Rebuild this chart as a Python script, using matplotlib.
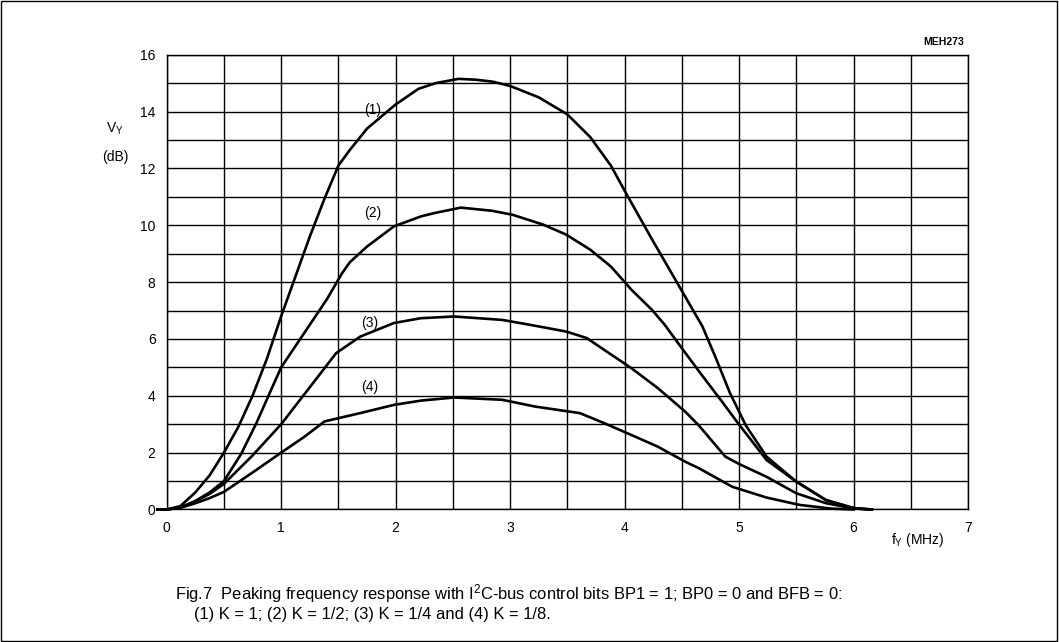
import matplotlib
matplotlib.use("Agg")
import matplotlib.pyplot as plt
from matplotlib.patches import Rectangle

plt.rcParams['font.family'] = ['Liberation Sans', 'DejaVu Sans']
plt.rcParams['mathtext.default'] = 'regular'

# curve (1) K = 1
f1 = [-0.08, 0.0, 0.12, 0.25, 0.375, 0.5, 0.625, 0.75, 0.875, 1.0, 1.125, 1.25, 1.375, 1.5,
      1.6, 1.75, 2.0, 2.2, 2.35, 2.55, 2.7, 2.85, 3.0, 3.25, 3.5, 3.7, 3.88, 4.03, 4.24,
      4.47, 4.68, 4.8, 4.92, 5.06, 5.24, 5.5, 5.76, 6.0, 6.16]
v1 = [0, 0, 0.12, 0.6, 1.2, 2.0, 2.9, 4.0, 5.3, 6.8, 8.2, 9.6, 10.9, 12.1,
      12.65, 13.4, 14.25, 14.8, 15.0, 15.15, 15.12, 15.05, 14.9, 14.5, 13.9, 13.1, 12.1, 11.0, 9.5,
      7.9, 6.44, 5.3, 4.1, 2.95, 1.86, 0.98, 0.33, 0.05, 0]
# curve (2) K = 1/2
f2 = [-0.08, 0.0, 0.12, 0.25, 0.375, 0.5, 0.65, 0.785, 0.9, 1.0, 1.2, 1.4, 1.53, 1.6, 1.75,
      1.985, 2.22, 2.34, 2.57, 2.84, 3.02, 3.29, 3.49, 3.7, 3.88, 4.06, 4.24, 4.35, 4.51,
      4.68, 4.85, 4.99, 5.24, 5.5, 5.76, 6.0, 6.16]
v2 = [0, 0, 0.07, 0.3, 0.6, 1.0, 1.95, 3.05, 4.1, 5.0, 6.2, 7.4, 8.3, 8.7, 9.25,
      9.96, 10.31, 10.43, 10.62, 10.51, 10.37, 10.02, 9.67, 9.14, 8.55, 7.73, 7.02, 6.5, 5.62,
      4.7, 3.8, 3.04, 1.74, 0.98, 0.33, 0.05, 0]
# curve (3) K = 1/4
f3 = [-0.08, 0.0, 0.12, 0.25, 0.375, 0.5, 0.75, 1.0, 1.25, 1.48, 1.69, 1.985, 2.22, 2.51,
      2.93, 3.17, 3.49, 3.67, 3.82, 4.06, 4.29, 4.53, 4.65, 4.88, 5.0, 5.24, 5.5, 5.76, 6.0, 6.12]
v3 = [0, 0, 0.07, 0.28, 0.55, 0.9, 1.9, 3.0, 4.3, 5.5, 6.08, 6.56, 6.73, 6.79,
      6.67, 6.5, 6.26, 6.03, 5.62, 4.97, 4.27, 3.44, 2.95, 1.86, 1.6, 1.15, 0.57, 0.22, 0.04, 0]
# curve (4) K = 1/8
f4 = [-0.08, 0.0, 0.12, 0.25, 0.375, 0.5, 0.75, 1.0, 1.2, 1.38, 1.69, 1.985, 2.22, 2.51,
      2.93, 3.22, 3.61, 3.82, 4.06, 4.29, 4.53, 4.65, 4.94, 5.24, 5.53, 5.81, 6.0]
v4 = [0, 0, 0.06, 0.22, 0.4, 0.62, 1.3, 2.0, 2.55, 3.1, 3.39, 3.68, 3.83, 3.94,
      3.86, 3.62, 3.39, 3.04, 2.62, 2.21, 1.68, 1.45, 0.8, 0.42, 0.16, 0.03, 0]

curve_labels = ['(1)', '(2)', '(3)', '(4)']
label_pos = [(1.8, 14.05), (1.8, 10.43), (1.77, 6.56), (1.77, 4.32)]

fig = plt.figure(figsize=(10.59, 6.42), dpi=100)
ax = fig.add_axes([0.1574, 0.2064, 0.7567, 0.7084])

for f, v in [(f1, v1), (f2, v2), (f3, v3), (f4, v4)]:
    ax.plot(f, v, color='black', lw=1.9, clip_on=False, solid_joinstyle='round', zorder=3)

for lab, (x, y) in zip(curve_labels, label_pos):
    ax.text(x, y, lab, fontsize=10, ha='center', va='center')

ax.set_xlim(0, 7)
ax.set_ylim(0, 16)
ax.set_xticks(range(0, 8))
ax.set_yticks(range(0, 17, 2))
ax.set_xticks([i * 0.5 for i in range(15)], minor=True)
ax.set_yticks(range(0, 17), minor=True)
ax.grid(True, which='both', color='black', lw=1.0)
ax.tick_params(which='both', length=0, labelsize=10)
ax.tick_params(axis='x', pad=8)
ax.tick_params(axis='y', pad=8)
for s in ax.spines.values():
    s.set_linewidth(1.0)

fig.text(0.1086, 0.800, r'V$_Y$', fontsize=10, ha='center', va='center')
fig.text(0.1086, 0.756, '(dB)', fontsize=10, ha='center', va='center')
fig.text(0.910, 0.935, 'MEH273', fontsize=7.5, fontweight='bold', ha='right', va='center')
fig.text(0.867, 0.159, r'f$_Y$ (MHz)', fontsize=10, ha='center', va='center')

fig.text(0.165, 0.076, 'Fig.7  Peaking frequency response with I$^2$C-bus control bits BP1 = 1; BP0 = 0 and BFB = 0:',
         fontsize=11.9, ha='left', va='center')
fig.text(0.183, 0.043, '(1) K = 1; (2) K = 1/2; (3) K = 1/4 and (4) K = 1/8.',
         fontsize=11.9, ha='left', va='center')

fig.patches.append(Rectangle((0.001, 0.002), 0.997, 0.996, transform=fig.transFigure,
                             fill=False, edgecolor='black', lw=1.0))

fig.savefig('out.png', dpi=100)
